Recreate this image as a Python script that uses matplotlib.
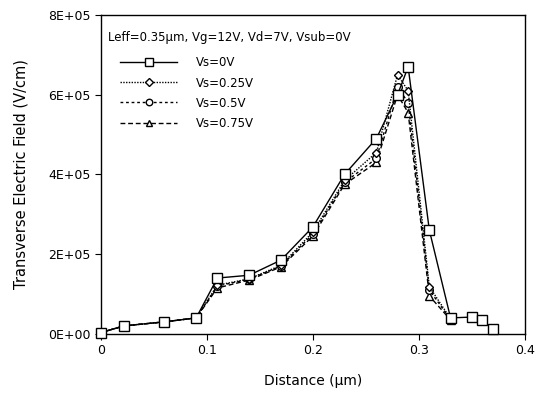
import matplotlib
matplotlib.use("Agg")
import matplotlib.pyplot as plt

x_vs0 = [0.0, 0.022, 0.06, 0.09, 0.11, 0.14, 0.17, 0.20, 0.23, 0.26, 0.28, 0.29, 0.31, 0.33, 0.35, 0.36, 0.37]
y_vs0 = [0.3e4, 2.0e4, 3.0e4, 4.0e4, 1.40e5, 1.47e5, 1.85e5, 2.68e5, 4.0e5, 4.9e5, 6.0e5, 6.7e5, 2.6e5, 4.0e4, 4.2e4, 3.5e4, 1.2e4]

x_other = [0.0, 0.022, 0.06, 0.09, 0.11, 0.14, 0.17, 0.20, 0.23, 0.26, 0.28, 0.29, 0.31, 0.33]
y_vs025 = [0.3e4, 2.0e4, 3.0e4, 4.0e4, 1.22e5, 1.38e5, 1.72e5, 2.55e5, 3.85e5, 4.55e5, 6.5e5, 6.1e5, 1.18e5, 3.8e4]
y_vs05 = [0.3e4, 2.0e4, 3.0e4, 4.0e4, 1.20e5, 1.37e5, 1.70e5, 2.50e5, 3.80e5, 4.40e5, 6.2e5, 5.8e5, 1.10e5, 3.6e4]
y_vs075 = [0.3e4, 2.0e4, 3.0e4, 4.0e4, 1.15e5, 1.35e5, 1.68e5, 2.45e5, 3.75e5, 4.30e5, 6.0e5, 5.55e5, 0.95e5, 3.5e4]

labels = ["Vs=0V", "Vs=0.25V", "Vs=0.5V", "Vs=0.75V"]
x_ticks = [0, 0.1, 0.2, 0.3, 0.4]
x_ticklabels = ["0", "0.1", "0.2", "0.3", "0.4"]
y_ticks = [0, 2e5, 4e5, 6e5, 8e5]
y_ticklabels = ["0E+00", "2E+05", "4E+05", "6E+05", "8E+05"]

plt.rcParams['font.family'] = ['DejaVu Sans']

fig = plt.figure(figsize=(5.36, 3.96), dpi=100)
ax = fig.add_axes([0.188, 0.157, 0.791, 0.805])

mk = dict(markerfacecolor='white', markeredgecolor='black', color='black', linewidth=1.0,
          markeredgewidth=1.0, clip_on=False)
h1, = ax.plot(x_vs0, y_vs0, '-', marker='s', markersize=6.5, label=labels[0], zorder=5, **mk)
h2, = ax.plot(x_other, y_vs025, linestyle=(0, (1, 1)), marker='D', markersize=4.5, label=labels[1], zorder=4, **mk)
h3, = ax.plot(x_other, y_vs05, linestyle=(0, (2, 2)), marker='o', markersize=5.5, label=labels[2], zorder=3, **mk)
h4, = ax.plot(x_other, y_vs075, linestyle=(0, (3.5, 2)), marker='^', markersize=5.5, label=labels[3], zorder=2, **mk)

ax.set_xlim(0, 0.4)
ax.set_ylim(0, 8e5)
ax.set_xticks(x_ticks)
ax.set_xticklabels(x_ticklabels, fontsize=9)
ax.set_yticks(y_ticks)
ax.set_yticklabels(y_ticklabels, fontsize=9)
ax.tick_params(direction='out', length=4, width=0.8)
for s in ax.spines.values():
    s.set_linewidth(1.0)

ax.set_xlabel("Distance (\u03bcm)", fontsize=10, labelpad=12)
ax.set_ylabel("Transverse Electric Field (V/cm)", fontsize=10.5, labelpad=14)

ax.text(0.018, 0.93, "Leff=0.35\u03bcm, Vg=12V, Vd=7V, Vsub=0V", transform=ax.transAxes,
        fontsize=8.5, va='center', ha='left')
ax.legend(handles=[h1, h2, h3, h4], loc='upper left', bbox_to_anchor=(0.035, 0.885),
          frameon=False, fontsize=8.5, handlelength=4.8, labelspacing=0.6, handletextpad=1.6,
          borderaxespad=0.0, markerscale=0.85)

fig.savefig("out.png", dpi=100)
